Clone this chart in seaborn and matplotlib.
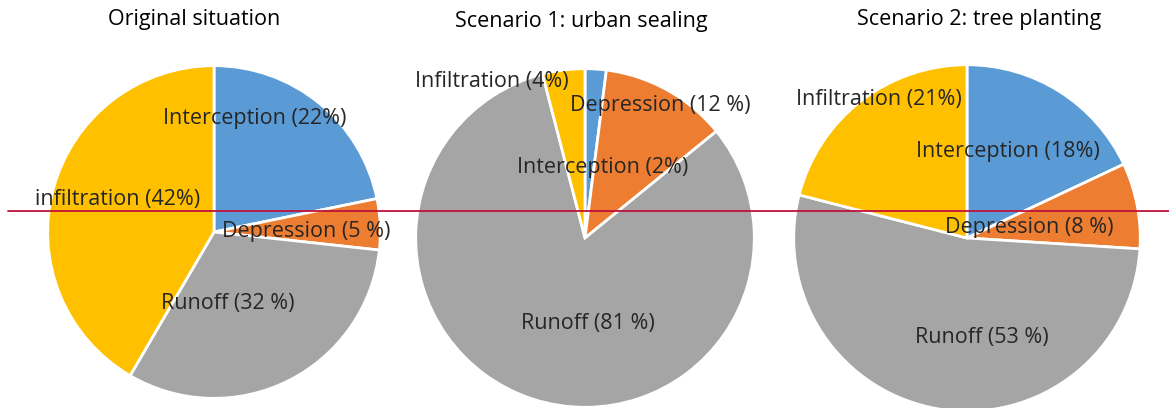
import matplotlib
matplotlib.use('Agg')
import matplotlib.pyplot as plt
import seaborn as sns

sns.set_theme(style='white')
plt.rcParams['font.family'] = ['Open Sans', 'DejaVu Sans']

# Дані
titles = ['Original situation', 'Scenario 1: urban sealing', 'Scenario 2: tree planting']
components = ['Interception', 'Depression', 'Runoff', 'Infiltration']
original = [22, 5, 32, 42]
sealing = [2, 12, 81, 4]
planting = [18, 8, 53, 21]
labels_original = ['Interception (22%)', 'Depression (5 %)', 'Runoff (32 %)', 'infiltration (42%)']
labels_sealing = ['Interception (2%)', 'Depression (12 %)', 'Runoff (81 %)', 'Infiltration (4%)']
labels_planting = ['Interception (18%)', 'Depression (8 %)', 'Runoff (53 %)', 'Infiltration (21%)']

colors = ['#5B9BD5', '#ED7D31', '#A5A5A5', '#FFC000']

W, H = 1169, 408
fig = plt.figure(figsize=(W / 100, H / 100), dpi=100)

# центр і радіус кожного кола в пікселях
pies = [
    (original, labels_original, (214, 232, 168), (194, 20),
     [(255, 118), (306, 231), (228, 303), (118, 199)]),
    (sealing, labels_sealing, (585, 238, 171), (581, 22),
     [(603, 168), (660, 106), (588, 323), (492, 82)]),
    (planting, labels_planting, (967, 238, 175), (979, 20),
     [(1008, 152), (1029, 228), (982, 337), (879, 100)]),
]

for (values, labels, (cx, cy, r), (tx, ty), label_pos), title in zip(pies, titles):
    ax = fig.add_axes([(cx - r) / W, (H - cy - r) / H, 2 * r / W, 2 * r / H])
    ax.pie(values, colors=colors, startangle=90, counterclock=False,
           wedgeprops=dict(edgecolor='white', linewidth=2))
    ax.set_xlim(-1.01, 1.01)
    ax.set_ylim(-1.01, 1.01)
    ax.set_aspect('equal')
    ax.axis('off')
    fig.text(tx / W, 1 - ty / H, title, ha='center', va='center', fontsize=15.5, color='black')
    for lab, (lx, ly) in zip(labels, label_pos):
        fig.text(lx / W, 1 - ly / H, lab, ha='center', va='center', fontsize=15.5, color='#262626')

# горизонтальна лінія
fig.add_artist(plt.Line2D([8 / W, 1], [1 - 211 / H, 1 - 211 / H], color='#C0103A', linewidth=1.3))

fig.savefig('out.png', dpi=100)
